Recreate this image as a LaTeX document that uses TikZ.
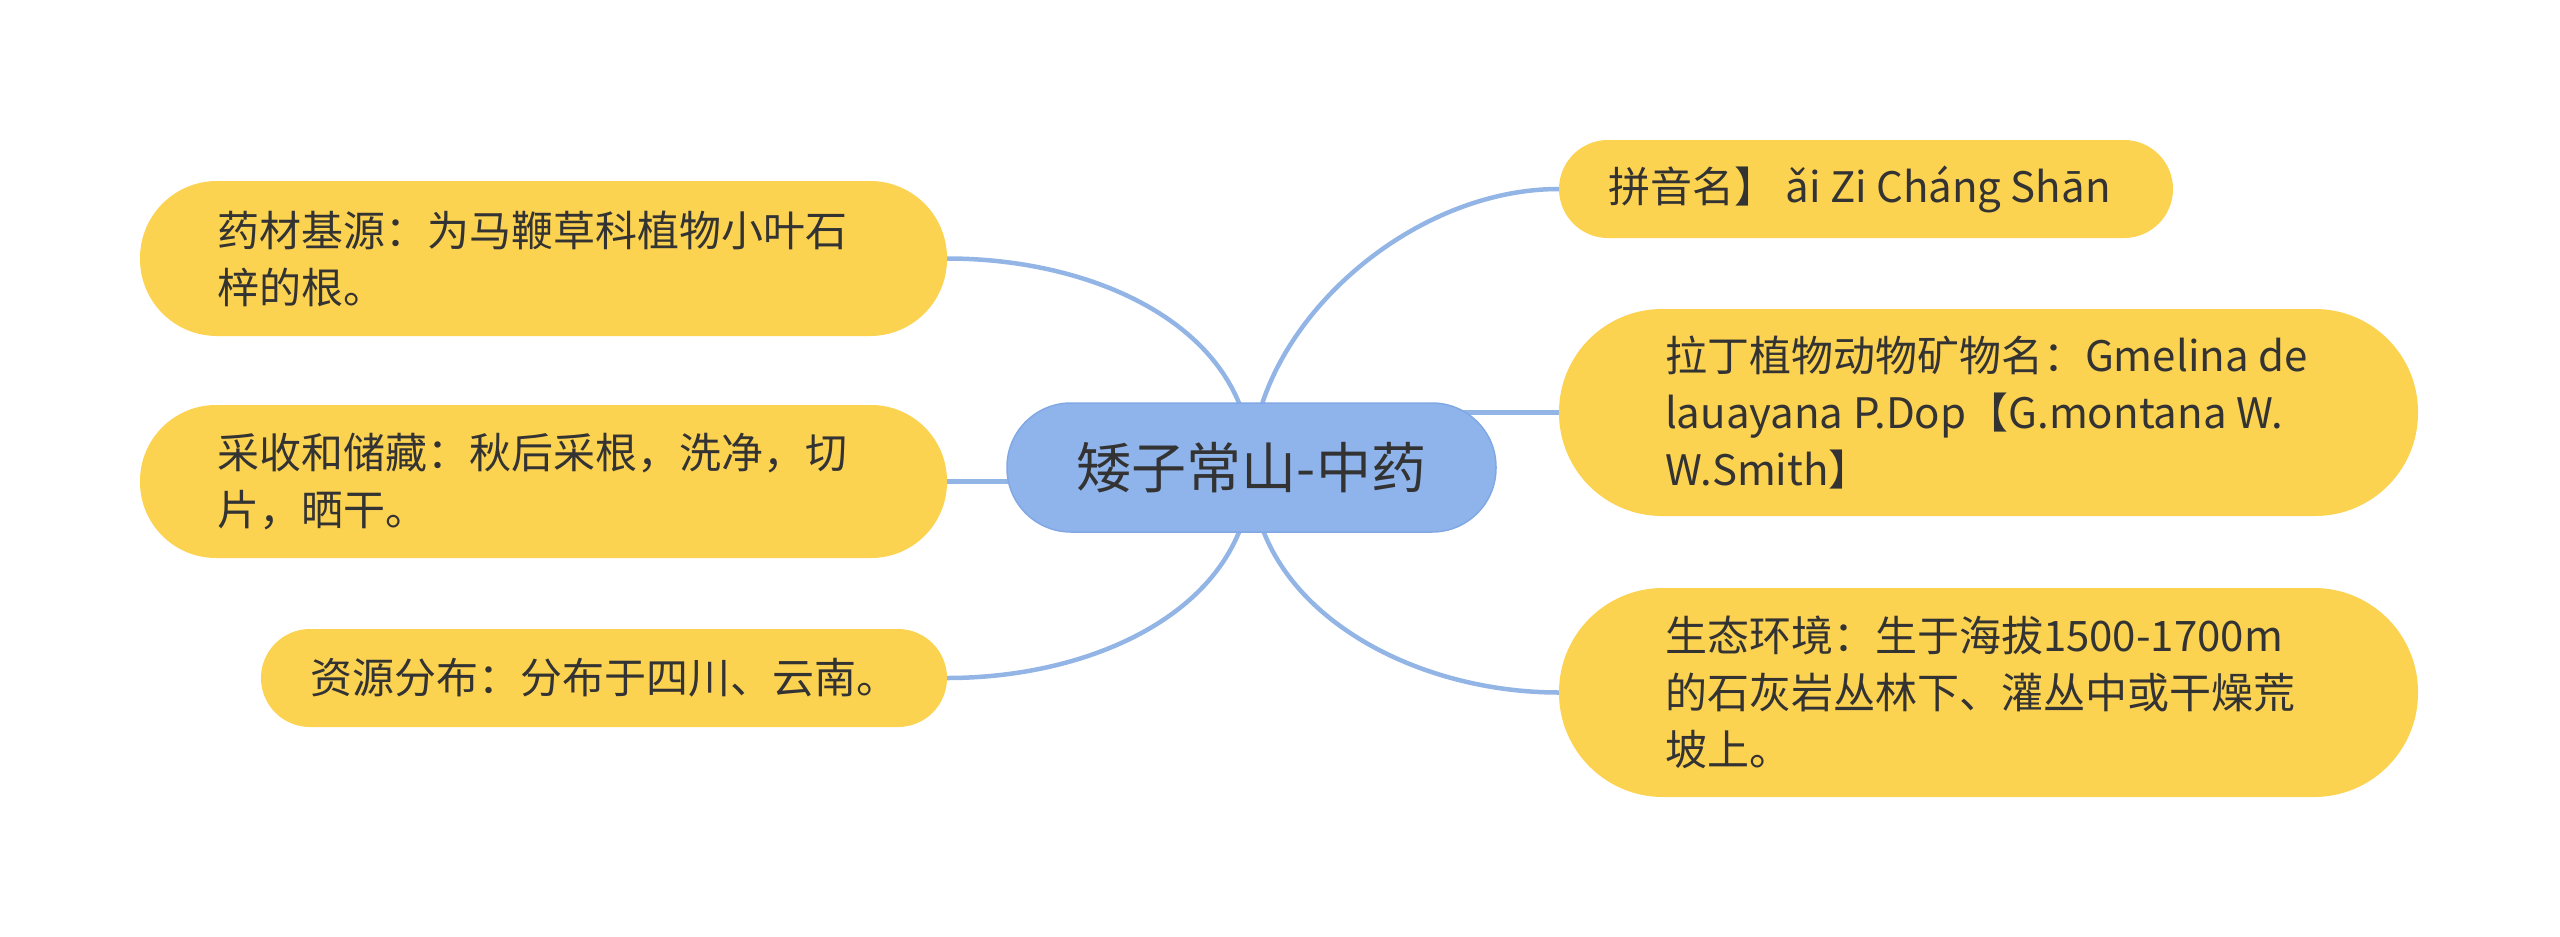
\documentclass[tikz,border=0pt]{standalone}
\usepackage{fontspec}
\newfontfamily\cjk{Noto Sans CJK SC}
\usetikzlibrary{backgrounds,calc}
\definecolor{leaf}{HTML}{FCD251}
\definecolor{root}{HTML}{8FB4EC}
\definecolor{rootline}{HTML}{82A8E4}
\definecolor{linkc}{HTML}{93B5E6}
\definecolor{txt}{HTML}{333333}
\begin{document}
\begin{tikzpicture}[x=1pt,y=1pt,
  leafbox/.style={fill=leaf, draw=none, inner sep=0pt},
  leaftext/.style={anchor=west, align=left, inner sep=0pt, text=txt, font=\cjk\fontsize{42}{57}\selectfont},
  linkline/.style={draw=linkc, line width=4.5pt}]
\useasboundingbox (0,0) rectangle (2560,-937);
% root
\node[fill=root, draw=rootline, line width=1.5pt, rounded corners=64pt, minimum width=489pt, minimum height=129pt, inner sep=0pt, font=\cjk\fontsize{55}{66}\selectfont, text=txt] (c) at (1251.5,-467.5) {矮子常山-中药};
% left boxes
\node[leafbox, rounded corners=77pt, minimum width=807pt, minimum height=155pt] (l1) at (543.5,-258.5) {};
\node[leaftext] (l1t) at ($(l1.west)+(77,0)$) {药材基源：为马鞭草科植物小叶石\\梓的根。};
\node[leafbox, rounded corners=76pt, minimum width=807pt, minimum height=153pt] (l2) at (543.5,-481.5) {};
\node[leaftext] (l2t) at ($(l2.west)+(77,0)$) {采收和储藏：秋后采根，洗净，切\\片，晒干。};
\node[leafbox, rounded corners=49pt, minimum width=686pt, minimum height=98pt] (l3) at (604,-678) {};
\node[leaftext] (l3t) at ($(l3.west)+(49,0)$) {资源分布：分布于四川、云南。};
% right boxes
\node[leafbox, rounded corners=49pt, minimum width=614pt, minimum height=98pt] (r1) at (1866,-189) {};
\node[leaftext] (r1t) at ($(r1.west)+(49,0)$) {拼音名】 ǎi Zi Cháng Shān};
\node[leafbox, rounded corners=103pt, minimum width=859pt, minimum height=207pt] (r2) at (1988.5,-412.5) {};
\node[leaftext] (r2t) at ($(r2.west)+(106,0)$) {拉丁植物动物矿物名：Gmelina de\\lauayana P.Dop【G.montana W.\\W.Smith】};
\node[leafbox, rounded corners=104pt, minimum width=859pt, minimum height=209pt] (r3) at (1988.5,-692.5) {};
\node[leaftext] (r3t) at ($(r3.west)+(106,0)$) {生态环境：生于海拔1500-1700m\\的石灰岩丛林下、灌丛中或干燥荒\\坡上。};
% connectors
\begin{scope}[on background layer]
\draw[linkline] (c.center) .. controls ($(c.center)+(0,137)$) and ($(l1.east)+(153,0)$) .. (l1.east);
\draw[linkline] (l2.east) -- (c.center |- l2.east);
\draw[linkline] (c.center) .. controls ($(c.center)+(0,-137)$) and ($(l3.east)+(153,0)$) .. (l3.east);
\draw[linkline] (c.center) .. controls ($(c.center)+(0,137)$) and ($(r1.west)+(-153,0)$) .. (r1.west);
\draw[linkline] (r2.west) -- (c.center |- r2.west);
\draw[linkline] (c.center) .. controls ($(c.center)+(0,-137)$) and ($(r3.west)+(-153,0)$) .. (r3.west);
\end{scope}
\end{tikzpicture}
\end{document}
